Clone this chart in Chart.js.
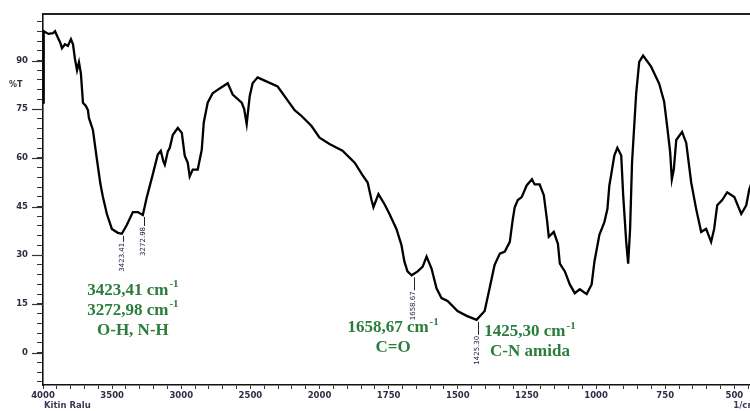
<!DOCTYPE html>
<html><head><meta charset="utf-8">
<script src="https://cdn.jsdelivr.net/npm/chart.js@4.4.1/dist/chart.umd.min.js"></script>
<style>
html,body{margin:0;padding:0;background:#fff;overflow:hidden;width:750px;height:411px}
#wrap{width:770px;height:411px;position:relative}
</style>
</head><body>
<div id="wrap"><canvas id="c" width="770" height="411"></canvas></div>
<script>
// ---- data ----
const wavenumbers = [4000,3995,3960,3928,3913,3892,3875,3863,3841,3820,3798,3783,3769,3754,3740,3726,3711,3690,3675,3668,3639,3610,3585,3567,3538,3502,3459,3430,3394,3350,3314,3278,3249,3206,3170,3148,3130,3119,3097,3083,3061,3025,2996,2975,2953,2939,2917,2881,2852,2837,2809,2773,2722,2664,2628,2563,2545,2527,2505,2484,2448,2397,2303,2253,2180,2130,2058,2000,1964,1917,1873,1844,1826,1812,1805,1787,1765,1747,1722,1704,1693,1682,1667,1645,1627,1613,1595,1577,1559,1537,1501,1468,1432,1403,1385,1367,1348,1330,1312,1301,1294,1283,1269,1251,1232,1222,1204,1189,1178,1171,1153,1138,1131,1113,1095,1077,1059,1034,1016,1006,988,970,959,952,945,934,923,909,902,891,884,877,870,855,844,830,801,772,754,743,732,726,719,710,689,674,656,638,620,602,584,573,562,544,526,500,475,457,446,435];
const transmittance = [77,99,98.2,98.4,99,97,95.5,93.8,95,94.5,96.6,95,90.5,87,89.5,86,77,76,74.7,72.3,68.6,59.5,52,48,42.7,38.1,36.9,36.6,39.3,43.3,43.3,42.4,47.9,54.9,61,62.2,59,57.9,62,63.1,67.1,69.2,67.7,60.7,58.5,54.3,56.4,56.4,62.5,71,77,79.9,81.4,83,79.5,77,75,70.4,79,83,84.8,83.8,82,79,74.7,72.9,69.8,66.2,64.3,62.2,58.5,54.6,52.4,47,44.8,48.8,45.7,42.7,38.1,33.2,28,25,23.8,25,26.5,29.6,25.9,19.8,16.8,15.9,12.8,11.3,10.1,12.8,19.8,27,30.5,31.1,34.1,41.2,44.8,47,47.9,51.5,53.4,51.8,51.8,48.5,41.2,35.7,37.2,33.5,27.4,25,21,18.3,19.5,18,21,28,36.3,40.2,44.2,51.5,55,60.7,63.1,60.7,48.5,34.1,27.4,38.1,58.5,79.9,89.6,91.5,88.1,82.9,77.4,69.8,61.6,53.4,56.4,65.5,68,64.6,52.4,44.2,37.2,38.1,34.1,38.1,45.4,47,49.4,47.9,42.7,45.4,50.3,53];
const xTickLabels = [4000,3500,3000,2500,2000,1750,1500,1250,1000,750,500];
const yTickLabels = [0,15,30,45,60,75,90];
const peakWavenumbers = [3423.41,3272.98,1658.67,1425.30];
const peakValues = [36.6,42.4,23.8,10.1];
const peakTexts = ['3423.41','3272.98','1658.67','1425.30'];
const noteTexts = [
  [['3423,41 cm','-1'],['3272,98 cm','-1'],['O-H, N-H']],
  [['1658,67 cm','-1'],['C=O']],
  [['1425,30 cm','-1'],['C-N amida']]
];
const noteWavenumbers = [3350,1734,1239];
const noteValues = [19.2,7.6,6.4];

// Shimadzu-style axis: 4000-2000 compressed by 2, below 2000 at full scale
function toAxis(w){ return w >= 2000 ? (4000 - w) / 2 : 1000 + (2000 - w); }
function fromAxis(v){ return v <= 1000 ? 4000 - 2 * v : 2000 - (v - 1000); }

const points = wavenumbers.map((w, i) => ({x: toAxis(w), y: transmittance[i]}));

const labelColor = '#2e2e44';
const green = '#2b7d3c';

const extras = {
  id: 'extras',
  afterDraw(chart){
    const ctx = chart.ctx, a = chart.chartArea;
    const xs = chart.scales.x, ys = chart.scales.y;
    ctx.save();
    // top frame line
    ctx.strokeStyle = '#222'; ctx.lineWidth = 2;
    ctx.beginPath(); ctx.moveTo(a.left, a.top); ctx.lineTo(a.right, a.top); ctx.stroke();
    ctx.beginPath(); ctx.moveTo(a.right, a.top); ctx.lineTo(a.right, a.bottom); ctx.stroke();
    // longer major y ticks
    ctx.lineWidth = 1.2; ctx.strokeStyle = '#333';
    yTickLabels.forEach(v => {
      const py = Math.round(ys.getPixelForValue(v)) + 0.5;
      ctx.beginPath(); ctx.moveTo(a.left - 11, py); ctx.lineTo(a.left, py); ctx.stroke();
    });
    // %T label
    ctx.fillStyle = labelColor;
    ctx.font = 'bold 8px "DejaVu Sans"';
    ctx.textAlign = 'left'; ctx.textBaseline = 'middle';
    ctx.fillText('%T', 9, ys.getPixelForValue(82.5));
    // axis captions
    ctx.font = 'bold 8.5px "DejaVu Sans"';
    ctx.fillStyle = '#3a3a5a';
    ctx.fillText('Kitin Ralu', a.left + 1, 406);
    ctx.fillText('1/cm', xs.getPixelForValue(toAxis(500)) - 1, 406);
    // peak markers with vertical labels
    const leaders = [6, 9, 13, 13];
    ctx.font = '7px "DejaVu Sans"';
    peakWavenumbers.forEach((w, i) => {
      const px = Math.round(xs.getPixelForValue(toAxis(w))) + 0.5;
      const py = ys.getPixelForValue(peakValues[i]) + 2;
      const top = py + leaders[i];
      ctx.strokeStyle = '#222'; ctx.lineWidth = 1;
      ctx.beginPath(); ctx.moveTo(px, py); ctx.lineTo(px, top); ctx.stroke();
      ctx.save();
      ctx.translate(px - 1, top + 1);
      ctx.rotate(-Math.PI / 2);
      ctx.fillStyle = '#1b1b3a';
      ctx.textAlign = 'right'; ctx.textBaseline = 'middle';
      ctx.fillText(peakTexts[i], 0, 0);
      ctx.restore();
    });
    // green annotations
    const mainFont = 'bold 17px "Liberation Serif"';
    const supFont = 'bold 11px "Liberation Serif"';
    ctx.fillStyle = green;
    ctx.textBaseline = 'middle'; ctx.textAlign = 'left';
    noteTexts.forEach((lines, i) => {
      const cx = xs.getPixelForValue(toAxis(noteWavenumbers[i]));
      const cy0 = ys.getPixelForValue(noteValues[i]);
      lines.forEach((parts, j) => {
        const cy = cy0 + j * 20;
        ctx.font = mainFont;
        const w1 = ctx.measureText(parts[0]).width;
        let w2 = 0;
        if (parts[1]) { ctx.font = supFont; w2 = ctx.measureText(parts[1]).width + 1; }
        const x0 = cx - (w1 + w2) / 2;
        ctx.font = mainFont;
        ctx.fillText(parts[0], x0, cy);
        if (parts[1]) { ctx.font = supFont; ctx.fillText(parts[1], x0 + w1 + 1, cy - 6); }
      });
    });
    ctx.restore();
  }
};

new Chart(document.getElementById('c'), {
  type: 'line',
  data: { datasets: [{
    data: points, borderColor: '#000', borderWidth: 2.3, pointRadius: 0,
    tension: 0, fill: false
  }]},
  options: {
    responsive: false, animation: false, devicePixelRatio: 1,
    layout: { padding: { top: 10, right: 8, left: 0, bottom: 0 } },
    plugins: { legend: { display: false }, tooltip: { enabled: false } },
    scales: {
      x: {
        type: 'linear', min: 0, max: 2600,
        afterFit(s){ s.height = 26; },
        afterBuildTicks(s){ const t = []; for (let v = 0; v <= 2600; v += 50) t.push({value: v}); s.ticks = t; },
        ticks: {
          autoSkip: false, maxRotation: 0, padding: 2, color: labelColor,
          font: { family: 'DejaVu Sans', size: 8.5, weight: 'bold' },
          callback(v){ const w = fromAxis(v); return xTickLabels.includes(w) ? String(w) : ''; }
        },
        grid: { drawOnChartArea: false, drawTicks: true, tickLength: 4, color: '#333', lineWidth: 1 },
        border: { display: true, color: '#111', width: 1.6 }
      },
      y: {
        type: 'linear', min: -10, max: 104.3,
        afterFit(s){ s.width = 43; },
        afterBuildTicks(s){ const t = []; for (let v = -9; v <= 102; v += 3) t.push({value: v}); s.ticks = t; },
        ticks: {
          autoSkip: false, padding: 9, color: labelColor,
          font: { family: 'DejaVu Sans', size: 8.5, weight: 'bold' },
          callback(v){ return yTickLabels.includes(v) ? String(v) : ''; }
        },
        grid: { drawOnChartArea: false, drawTicks: true, tickLength: 6, color: '#333', lineWidth: 1 },
        border: { display: true, color: '#111', width: 1.6 }
      }
    }
  },
  plugins: [extras]
});
</script>
</body></html>
